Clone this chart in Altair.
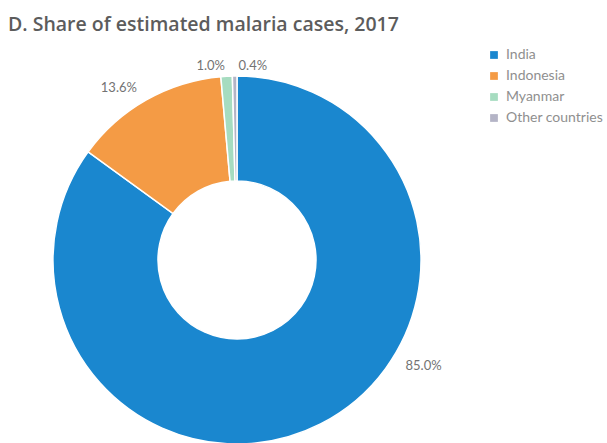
import altair as alt
import pandas as pd
import math

countries = ["India", "Indonesia", "Myanmar", "Other countries"]
shares = [85.0, 13.6, 1.0, 0.4]
labels = ["85.0%", "13.6%", "1.0%", "0.4%"]
colors = ["#1a87cf", "#f49b45", "#a6dcc0", "#b4b4c6"]

df = pd.DataFrame({"country": countries, "share": shares, "label": labels,
                   "idx": list(range(len(countries)))})

CX, CY = 237, 224
FONT = "Lato"

arcs = alt.Chart(df).mark_arc(innerRadius=79, outerRadius=184, stroke="white", strokeWidth=1.5).encode(
    theta=alt.Theta("share:Q", stack=True),
    order=alt.Order("idx:Q"),
    x=alt.value(CX), y=alt.value(CY),
    color=alt.Color("country:N", sort=countries,
                    scale=alt.Scale(domain=countries, range=colors),
                    legend=alt.Legend(title=None, orient="none", legendX=487, legendY=12,
                                      symbolType="square", symbolSize=60, labelFont=FONT,
                                      labelFontSize=14, labelColor="#8f8f8f", rowPadding=7,
                                      labelOffset=5, symbolStrokeWidth=0)),
)

# per-label style offsets (align, dx, dy)
label_style = {
    "India": ("left", 80, -68),
    "Indonesia": ("right", -4, -2),
    "Myanmar": ("right", -1, 1),
    "Other countries": ("left", 4, 1),
}

layers = [arcs]
for c in countries:
    al, ddx, ddy = label_style[c]
    layers.append(
        alt.Chart(df).transform_stack(
            stack="share", groupby=[], as_=["s0", "s1"], sort=[alt.SortField("idx")]
        ).transform_calculate(
            mid="(datum.s0 + datum.s1) / 2"
        ).transform_filter(
            alt.datum.country == c
        ).mark_text(align=al, baseline="middle", dx=ddx, dy=ddy, font=FONT,
                    fontSize=13, color="#737373").encode(
            theta=alt.Theta("mid:Q", stack=None,
                            scale=alt.Scale(domain=[0, 100], range=[0, 2 * math.pi])),
            x=alt.value(CX), y=alt.value(CY), radius=alt.value(195), text="label:N",
        )
    )

chart = alt.layer(*layers).resolve_scale(theta="independent").properties(
    width=607, height=407,
    padding={"left": 0, "top": 36, "right": 0, "bottom": 0},
    autosize=alt.AutoSizeParams(type="none"),
    title=alt.TitleParams("D. Share of estimated malaria cases, 2017", anchor="start",
                          font="Open Sans", fontSize=19.5, fontWeight=600, color="#5c5c5c",
                          dx=8, offset=1),
).configure_view(stroke=None)

chart.save("out.html", embed_options={"renderer": "svg", "actions": False})
